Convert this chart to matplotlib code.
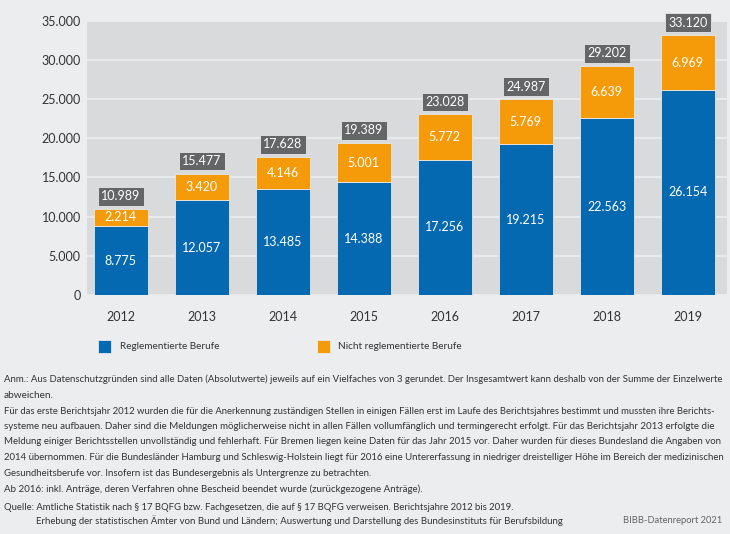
import matplotlib
matplotlib.use('Agg')
import matplotlib.pyplot as plt
from matplotlib.patches import Rectangle

plt.rcParams['font.family'] = ['Lato', 'DejaVu Sans']

W, H = 730, 534
BG = '#ecedef'
PLOT_BG = '#d9dadc'
BLUE = '#0569b1'
ORANGE = '#f59b09'
DARK = '#333335'

years = ['2012', '2013', '2014', '2015', '2016', '2017', '2018', '2019']
reglementiert = [8775, 12057, 13485, 14388, 17256, 19215, 22563, 26154]
nicht_reglementiert = [2214, 3420, 4146, 5001, 5772, 5769, 6639, 6969]
insgesamt = [10989, 15477, 17628, 19389, 23028, 24987, 29202, 33120]
y_ticks = [0, 5000, 10000, 15000, 20000, 25000, 30000, 35000]

# (text, y centre px, x start px, x end px)
notes = [
    ('Anm.: Aus Datenschutzgründen sind alle Daten (Absolutwerte) jeweils auf ein Vielfaches von 3 gerundet. Der Insgesamtwert kann deshalb von der Summe der Einzelwerte', 379, 4, 723),
    ('abweichen.', 395, 4, 53),
    ('Für das erste Berichtsjahr 2012 wurden die für die Anerkennung zuständigen Stellen in einigen Fällen erst im Laufe des Berichtsjahres bestimmt und mussten ihre Berichts-', 411, 4, 723),
    ('systeme neu aufbauen. Daher sind die Meldungen möglicherweise nicht in allen Fällen vollumfänglich und termingerecht erfolgt. Für das Berichtsjahr 2013 erfolgte die', 426.5, 4, 723),
    ('Meldung einiger Berichtsstellen unvollständig und fehlerhaft. Für Bremen liegen keine Daten für das Jahr 2015 vor. Daher wurden für dieses Bundesland die Angaben von', 442, 4, 723),
    ('2014 übernommen. Für die Bundesländer Hamburg und Schleswig-Holstein liegt für 2016 eine Untererfassung in niedriger dreistelliger Höhe im Bereich der medizinischen', 458, 4, 723),
    ('Gesundheitsberufe vor. Insofern ist das Bundesergebnis als Untergrenze zu betrachten.', 474, 4, 367),
    ('Ab 2016: inkl. Anträge, deren Verfahren ohne Bescheid beendet wurde (zurückgezogene Anträge).', 489, 4, 420),
    ('Quelle: Amtliche Statistik nach § 17 BQFG bzw. Fachgesetzen, die auf § 17 BQFG verweisen. Berichtsjahre 2012 bis 2019.', 507, 4, 513),
    ('Erhebung der statistischen Ämter von Bund und Ländern; Auswertung und Darstellung des Bundesinstituts für Berufsbildung', 520.5, 36, 562),
]


def fx(px):
    return px / W


def fy(py):
    return 1 - py / H


def de(v):
    return f'{v:,}'.replace(',', '.')


fig = plt.figure(figsize=(W / 100, H / 100), dpi=100, facecolor=BG)
ax = fig.add_axes([fx(87), fy(295), (727 - 87) / W, (295 - 20.5) / H], facecolor=PLOT_BG)
renderer = fig.canvas.get_renderer()


def fit_text(text, px, px_end, py, color=DARK):
    # scale font so the line spans the same width as in the reference
    size = 9
    t = fig.text(fx(px), fy(py), text, ha='left', va='center', color=color, fontsize=size)
    for _ in range(4):
        size *= (px_end - px) / t.get_window_extent(renderer).width
        t.set_fontsize(size)
    return t


x = range(len(years))
ax.bar(x, reglementiert, width=0.667, color=BLUE, edgecolor='#e6e7e9', linewidth=0.6, zorder=3)
ax.bar(x, nicht_reglementiert, width=0.667, bottom=reglementiert, color=ORANGE,
       edgecolor='#e6e7e9', linewidth=0.6, zorder=3)

for i in x:
    ax.text(i, reglementiert[i] / 2, de(reglementiert[i]), ha='center', va='center',
            color='white', fontsize=9, zorder=4)
    ax.text(i, reglementiert[i] + nicht_reglementiert[i] / 2, de(nicht_reglementiert[i]),
            ha='center', va='center', color='white', fontsize=9, zorder=4)
    ax.annotate(de(insgesamt[i]), xy=(i, reglementiert[i] + nicht_reglementiert[i]),
                xytext=(0, 9), textcoords='offset points', ha='center', va='center',
                color='white', fontsize=9, zorder=5,
                bbox=dict(boxstyle='square,pad=0.27', facecolor='#646567', edgecolor='#e6e7e9', linewidth=0.6))

ax.set_xlim(-0.416, 7.485)
ax.set_ylim(0, 35000)
ax.set_yticks(y_ticks)
ax.set_yticklabels([de(v) for v in y_ticks])
ax.set_xticks(list(x))
ax.set_xticklabels(years)
ax.tick_params(length=0, labelsize=9, labelcolor=DARK)
ax.tick_params(axis='y', pad=4.5)
ax.tick_params(axis='x', pad=11.5)
ax.grid(axis='y', color='#eff0f1', linewidth=1.1, zorder=1)
ax.set_axisbelow(True)
for s in ax.spines.values():
    s.set_visible(False)

# legend
for x0, color, label, tx, tx_end in [(98, BLUE, 'Reglementierte Berufe', 119.5, 219),
                                     (317, ORANGE, 'Nicht reglementierte Berufe', 338.5, 462)]:
    fig.patches.append(Rectangle((fx(x0), fy(353)), 13 / W, 13 / H, transform=fig.transFigure,
                                 facecolor=color, edgecolor='#f4f4f5', linewidth=0.5))
    fit_text(label, tx, tx_end, 346.5)

for text, py, px, px_end in notes:
    fit_text(text, px, px_end, py)

fit_text('BIBB-Datenreport 2021', 623, 723, 520.5, color='#636466')

fig.savefig('out.png', dpi=100, facecolor=BG)
